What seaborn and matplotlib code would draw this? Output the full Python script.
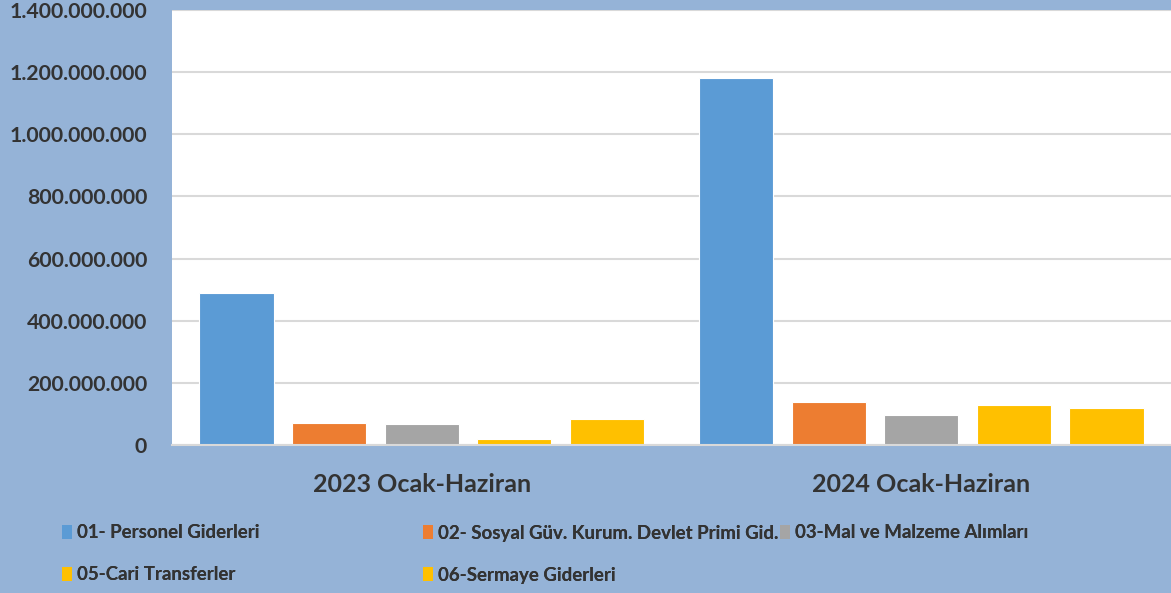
import matplotlib
matplotlib.use("Agg")
import matplotlib.pyplot as plt
import matplotlib.ticker as mticker
from matplotlib.patches import Patch
import seaborn as sns
import pandas as pd

periods = ["2023 Ocak-Haziran", "2024 Ocak-Haziran"]
series = [
    "01- Personel Giderleri",
    "02- Sosyal Güv. Kurum. Devlet Primi Gid.",
    "03-Mal ve Malzeme Alımları",
    "05-Cari Transferler",
    "06-Sermaye Giderleri",
]
personel = [490_000_000, 1_181_000_000]
sosyal = [72_000_000, 140_000_000]
mal = [69_000_000, 95_000_000]
cari = [20_000_000, 129_000_000]
sermaye = [85_000_000, 119_000_000]
colors = ["#5B9BD5", "#ED7D31", "#A5A5A5", "#FFC000", "#FFC000"]

values = [personel, sosyal, mal, cari, sermaye]
rows = []
for s, vals in zip(series, values):
    for p, v in zip(periods, vals):
        rows.append({"Dönem": p, "Kalem": s, "Tutar": v})
df = pd.DataFrame(rows)

sns.set_theme(style="white")
font = ["Lato", "DejaVu Sans"]
plt.rcParams["font.family"] = font

BG = "#95B3D7"
TXT = "#333333"

fig = plt.figure(figsize=(11.71, 5.93), dpi=100, facecolor=BG)
ax = fig.add_axes([172 / 1171, 1 - 445 / 593, 1 - 172 / 1171, (445 - 10) / 593])
ax.set_facecolor("white")

sns.barplot(data=df, x="Dönem", y="Tutar", hue="Kalem", hue_order=series,
            palette=colors, width=0.927, gap=0.2, ax=ax, legend=False,
            edgecolor="white", linewidth=0.8, saturation=1)

ax.set_xlim(-0.5, 1.5)
ax.set_ylim(0, 1_400_000_000)
ax.yaxis.set_major_locator(mticker.MultipleLocator(200_000_000))
ax.yaxis.set_major_formatter(mticker.FuncFormatter(lambda v, p: f"{int(v):,}".replace(",", ".")))
ax.grid(axis="y", color="#D9D9D9", linewidth=1.5)
ax.set_axisbelow(True)
for side in ["left", "right", "top"]:
    ax.spines[side].set_visible(False)
ax.spines["bottom"].set_color("#D9D9D9")
ax.spines["bottom"].set_linewidth(1.5)
ax.set_xlabel("")
ax.set_ylabel("")
ax.tick_params(axis="y", length=0, pad=18, labelsize=15.3, labelcolor=TXT)
ax.tick_params(axis="x", length=0, pad=20, labelsize=18, labelcolor=TXT)
for lab in ax.get_yticklabels() + ax.get_xticklabels():
    lab.set_fontweight("bold")

legend_pos = [
    (62, 533), (423, 533), (780, 533),
    (62, 575), (423, 575),
]
for s, c, (px, py) in zip(series, colors, legend_pos):
    leg = fig.legend(handles=[Patch(facecolor=c, edgecolor="none")], labels=[s],
                     loc="center left", bbox_to_anchor=(px / 1171, 1 - py / 593),
                     frameon=False, handlelength=0.55, handleheight=0.75,
                     handletextpad=0.25, borderpad=0, borderaxespad=0,
                     prop={"family": font, "weight": "bold", "size": 13.4})
    for t in leg.get_texts():
        t.set_color(TXT)
    fig.add_artist(leg)

fig.savefig("out.png", dpi=100, facecolor=BG)
